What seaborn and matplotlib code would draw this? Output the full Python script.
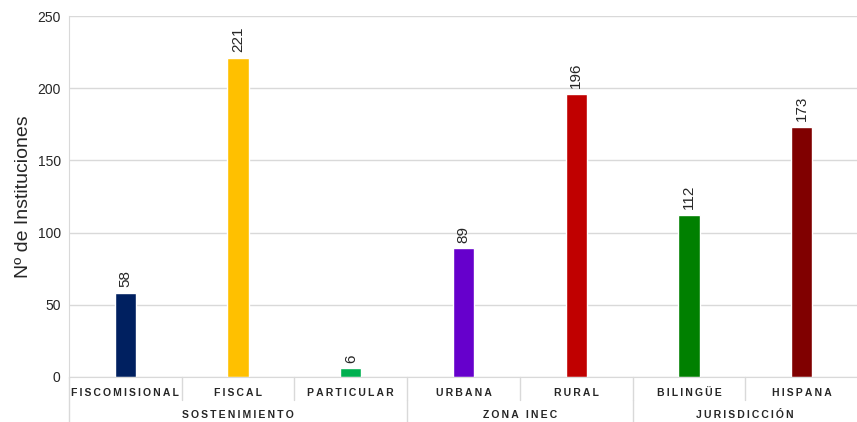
import matplotlib
matplotlib.use("Agg")
import matplotlib.pyplot as plt
import matplotlib.transforms as mtransforms
import seaborn as sns
import pandas as pd

categorias = ["FISCOMISIONAL", "FISCAL", "PARTICULAR", "URBANA", "RURAL", "BILINGÜE", "HISPANA"]
valores = [58, 221, 6, 89, 196, 112, 173]
colores = ["#002060", "#FFC000", "#00B050", "#6600CC", "#C00000", "#008000", "#800000"]
grupos = ["SOSTENIMIENTO", "ZONA INEC", "JURISDICCIÓN"]
grupo_tam = [3, 2, 2]

df = pd.DataFrame({"cat": categorias, "n": valores})

sns.set_style("white")
plt.rcParams["font.family"] = ["Liberation Sans Narrow", "Liberation Sans", "DejaVu Sans"]

fig = plt.figure(figsize=(8.57, 4.22), dpi=100)
ax = fig.add_axes([69 / 857, 45 / 422, 789 / 857, 361 / 422])

sns.barplot(data=df, x="cat", y="n", hue="cat", palette=colores, width=0.19,
            legend=False, ax=ax, saturation=1)

ax.set_ylim(0, 250)
ax.set_xlim(-0.5, len(categorias) - 0.5)
ax.set_yticks(range(0, 251, 50))
ax.yaxis.grid(True, color="#d9d9d9", linewidth=1)
ax.set_axisbelow(True)
for s in ["top", "right"]:
    ax.spines[s].set_visible(False)
ax.spines["left"].set_color("#d9d9d9")
ax.spines["bottom"].set_color("#d9d9d9")
ax.tick_params(axis="y", length=0, labelsize=10, pad=6)
ax.set_ylabel("Nº de Instituciones", fontsize=14, family=["Liberation Sans", "DejaVu Sans"])
ax.set_xlabel("")
ax.set_xticks(range(len(categorias)))
ax.set_xticklabels([])
ax.tick_params(axis="x", length=0)

# etiquetas de valor
for i, v in enumerate(valores):
    ax.text(i, v + 4, str(v), rotation=90, ha="center", va="bottom", fontsize=11,
            family=["Liberation Sans", "DejaVu Sans"])

trans = mtransforms.blended_transform_factory(ax.transData, fig.transFigure)
sp = "\u2009"
# categorias
for i, c in enumerate(categorias):
    ax.text(i, 1 - 393 / 422, sp.join(c), transform=trans, ha="center", va="center",
            fontsize=7.5, fontweight="bold", family=["Liberation Sans", "DejaVu Sans"])

# separadores
for i in range(1, len(categorias)):
    ax.plot([i - 0.5, i - 0.5], [45 / 422, 22 / 422], transform=trans, color="#d9d9d9",
            lw=1, clip_on=False)
ax.plot([-0.5, -0.5], [45 / 422, 0], transform=trans, color="#d9d9d9", lw=1, clip_on=False)

inicio = 0
for g, t in zip(grupos, grupo_tam):
    centro = inicio + (t - 1) / 2
    ax.text(centro, 1 - 415 / 422, sp.join(g), transform=trans, ha="center", va="center",
            fontsize=7.5, fontweight="bold", family=["Liberation Sans", "DejaVu Sans"])
    inicio += t
    if inicio < len(categorias):
        ax.plot([inicio - 0.5, inicio - 0.5], [22 / 422, 0], transform=trans,
                color="#d9d9d9", lw=1, clip_on=False)

fig.savefig("out.png", dpi=100)
